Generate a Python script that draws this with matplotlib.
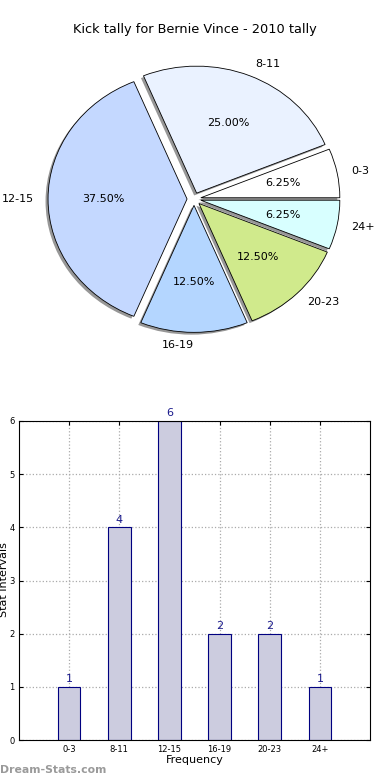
import matplotlib
matplotlib.use("Agg")
import matplotlib.pyplot as plt

# ---- Data ----
intervals = ["0-3", "8-11", "12-15", "16-19", "20-23", "24+"]
counts = [1, 4, 6, 2, 2, 1]
slice_colors = ["#ffffff", "#eaf2ff", "#c4d8ff", "#b4d6ff", "#d0ea8c", "#d8ffff"]
bar_pos = [1, 2, 3, 4, 5, 6]

W, H = 390, 780
fig = plt.figure(figsize=(W / 100, H / 100), dpi=100)

# ---- Pie ----
rx, ry = 139, 127
cx, cy = 194, 199
lim = 1.25
pw, ph = 2 * lim * rx, 2 * lim * ry
ax1 = fig.add_axes([(cx - pw / 2) / W, (H - cy - ph / 2) / H, pw / W, ph / H])
wedges, labels, pcts = ax1.pie(
    counts, labels=intervals, colors=slice_colors, explode=[0.05] * 6,
    autopct="%.2f%%", startangle=0,
    shadow=dict(ox=-0.013, oy=-0.013, facecolor="#8c8c8c", edgecolor="none", alpha=0.9),
    wedgeprops=dict(edgecolor="black", linewidth=0.6),
    textprops=dict(fontsize=8))
labels[3].set_ha("right")
ax1.set_aspect("auto")
ax1.set_xlim(-lim, lim)
ax1.set_ylim(-lim, lim)
ax1.axis("off")
fig.text(195 / W, 1 - 30 / H, "Kick tally for Bernie Vince - 2010 tally",
         ha="center", va="center", fontsize=9.3)

# ---- Bars ----
ax2 = fig.add_axes([19 / W, 40 / H, 351 / W, 319 / H])
bars = ax2.bar(bar_pos, counts, width=0.45, color="#ccccdf",
               edgecolor="#000080", linewidth=0.8, zorder=2)
for b, v in zip(bars, counts):
    ax2.text(b.get_x() + b.get_width() / 2, v + 0.05, str(v),
             ha="center", va="bottom", fontsize=8, color="#1a1a8c")
ax2.set_xlim(0, 7)
ax2.set_ylim(0, 6)
ax2.set_xticks(bar_pos)
ax2.set_xticklabels(intervals, fontsize=6)
ax2.set_yticks(range(0, 7))
ax2.tick_params(axis="y", labelsize=6, pad=3)
ax2.tick_params(direction="in", top=True, right=True, length=3)
ax2.grid(True, linestyle=":", color="#aaaaaa", linewidth=0.9, zorder=0)
ax2.set_axisbelow(True)
ax2.set_xlabel("Frequency", fontsize=8, labelpad=1)
fig.text(4 / W, 1 - 580 / H, "Stat Intervals", rotation=90,
         ha="center", va="center", fontsize=8)
fig.text(0, 1 - 770 / H, "Dream-Stats.com", ha="left", va="center",
         fontsize=7.8, color="#9a9a9a", fontweight="bold")

fig.savefig("out.png", dpi=100)
